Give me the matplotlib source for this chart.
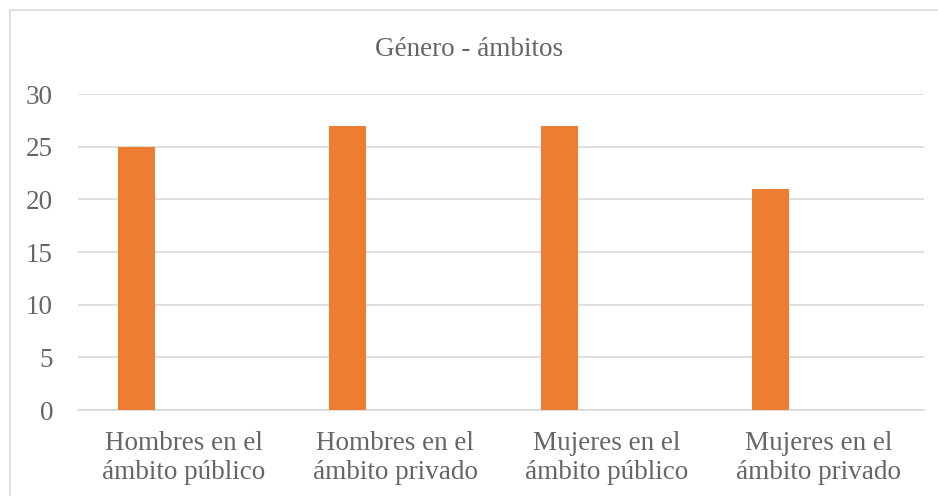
import numpy as np
import matplotlib.pyplot as plt
from matplotlib.lines import Line2D

categories = ['Hombres en el\námbito público', 'Hombres en el\námbito privado',
              'Mujeres en el\námbito público', 'Mujeres en el\námbito privado']
values = [25, 27, 27, 21]
yticks = [0, 5, 10, 15, 20, 25, 30]

plt.rcParams['font.family'] = ['Liberation Serif', 'DejaVu Serif']
txt = '#666666'
grid = '#D9D9D9'

fig = plt.figure(figsize=(9.38, 4.96), dpi=100)
ax = fig.add_axes([78 / 938, 1 - 410 / 496, 846 / 938, 316 / 496])

x = np.arange(len(categories))
ax.bar(x - 0.225, values, width=0.175, color='#ED7D31', zorder=3)

ax.set_xlim(-0.5, len(categories) - 0.5)
ax.set_ylim(0, 30)
ax.set_yticks(yticks)
ax.set_xticks(x)
ax.set_xticklabels(categories, fontsize=19.5, color=txt, linespacing=1.2)
ax.tick_params(axis='y', labelsize=19.5, colors=txt, length=0, pad=18)
ax.tick_params(axis='x', length=0, pad=15)
ax.grid(axis='y', color=grid, linewidth=1.2, zorder=0)
for s in ['top', 'right', 'left']:
    ax.spines[s].set_visible(False)
ax.spines['bottom'].set_color(grid)
ax.spines['bottom'].set_linewidth(1.2)

fig.text(0.5, 1 - 49 / 496, 'Género - ámbitos', ha='center', va='center',
         fontsize=19.5, color=txt)

# chart border (left and top visible)
fig.add_artist(Line2D([10 / 938, 10 / 938], [0, 1 - 10 / 496], transform=fig.transFigure,
                      color=grid, linewidth=1.2))
fig.add_artist(Line2D([10 / 938, 1], [1 - 10 / 496, 1 - 10 / 496], transform=fig.transFigure,
                      color=grid, linewidth=1.2))

fig.savefig('out.png', dpi=100)
